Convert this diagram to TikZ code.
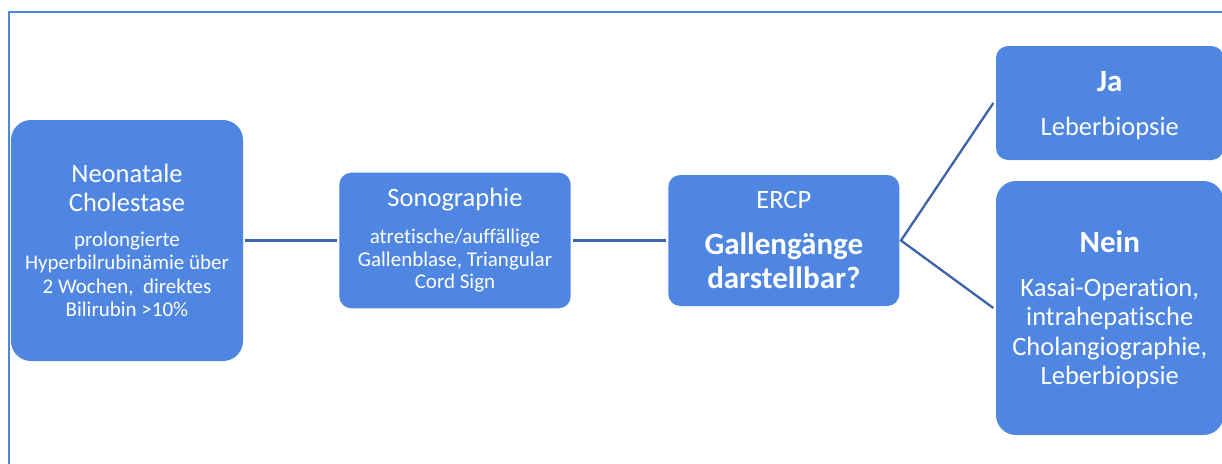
\documentclass[tikz,border=0pt]{standalone}
\usepackage{fontspec}
\setmainfont{Carlito}[Ligatures={NoCommon}]
\definecolor{boxblue}{RGB}{79,134,226}
\definecolor{lineblue}{RGB}{59,98,170}
\newcommand{\titlefont}{\fontsize{26.5}{29.5}\selectfont}
\newcommand{\bodyfont}{\fontsize{21}{23.5}\selectfont}
\newcommand{\boldfont}{\bfseries\fontsize{31}{34}\selectfont}
\tikzset{
  box/.style={fill=boxblue,text=white,align=center,inner sep=0pt,rounded corners=12pt},
  link/.style={draw=lineblue,line width=2.3pt}
}
\begin{document}
\begin{tikzpicture}[x=1pt,y=-1pt]
  \useasboundingbox (0,0) rectangle (1222,463);
  \clip (0,0) rectangle (1222,463);
  \draw[boxblue,line width=1.5pt] (9,470) -- (9,12) -- (1230,12);
  \node[box,rounded corners=20pt,minimum width=232pt,minimum height=241pt,font={\bodyfont\lineskiplimit=-100pt}] (neo) at (127,240.5)
    {\titlefont Neonatale\\[5.5pt] \titlefont Cholestase\\[11.5pt] prolongierte\\ Hyperbilrubinämie über\\ 2 Wochen,~ direktes\\ Bilirubin >10\%};
  \node[box,minimum width=231.4pt,minimum height=135.6pt,font={\fontsize{21}{22.7}\selectfont\lineskiplimit=-100pt}] (sono) at (455,240.5)
    {\titlefont Sonographie\\[13.9pt] atretische/auffällige\\ Gallenblase, Triangular\\ Cord Sign};
  \node[box,minimum width=231pt,minimum height=131pt,font={\boldfont\lineskiplimit=-100pt}] (ercp) at (783.8,240.5)
    {\mdseries\titlefont ERCP\\[12pt] Gallengänge\\ darstellbar?};
  \node[box,minimum width=227.5pt,minimum height=114pt,font={\titlefont\lineskiplimit=-100pt},text depth=0pt] (ja) at (1109.75,103)
    {\boldfont Ja\\[14.5pt] Leberbiopsie};
  \node[box,rounded corners=20pt,minimum width=227.5pt,minimum height=254pt,font={\titlefont\lineskiplimit=-100pt},text depth=0pt] (nein) at (1109.75,308)
    {\boldfont Nein\\[13.8pt] Kasai-Operation,\\ intrahepatische\\ Cholangiographie,\\ Leberbiopsie};
  \draw[link] ([xshift=1.5pt]neo.east) -- ([xshift=-2.5pt]sono.west);
  \draw[link] ([xshift=2pt]sono.east) -- ([xshift=-2.5pt]ercp.west);
  \draw[link] ([xshift=-2.5pt]ja.west) -- ([xshift=1.5pt]ercp.east) -- ([xshift=-2.5pt]nein.west);
\end{tikzpicture}
\end{document}
